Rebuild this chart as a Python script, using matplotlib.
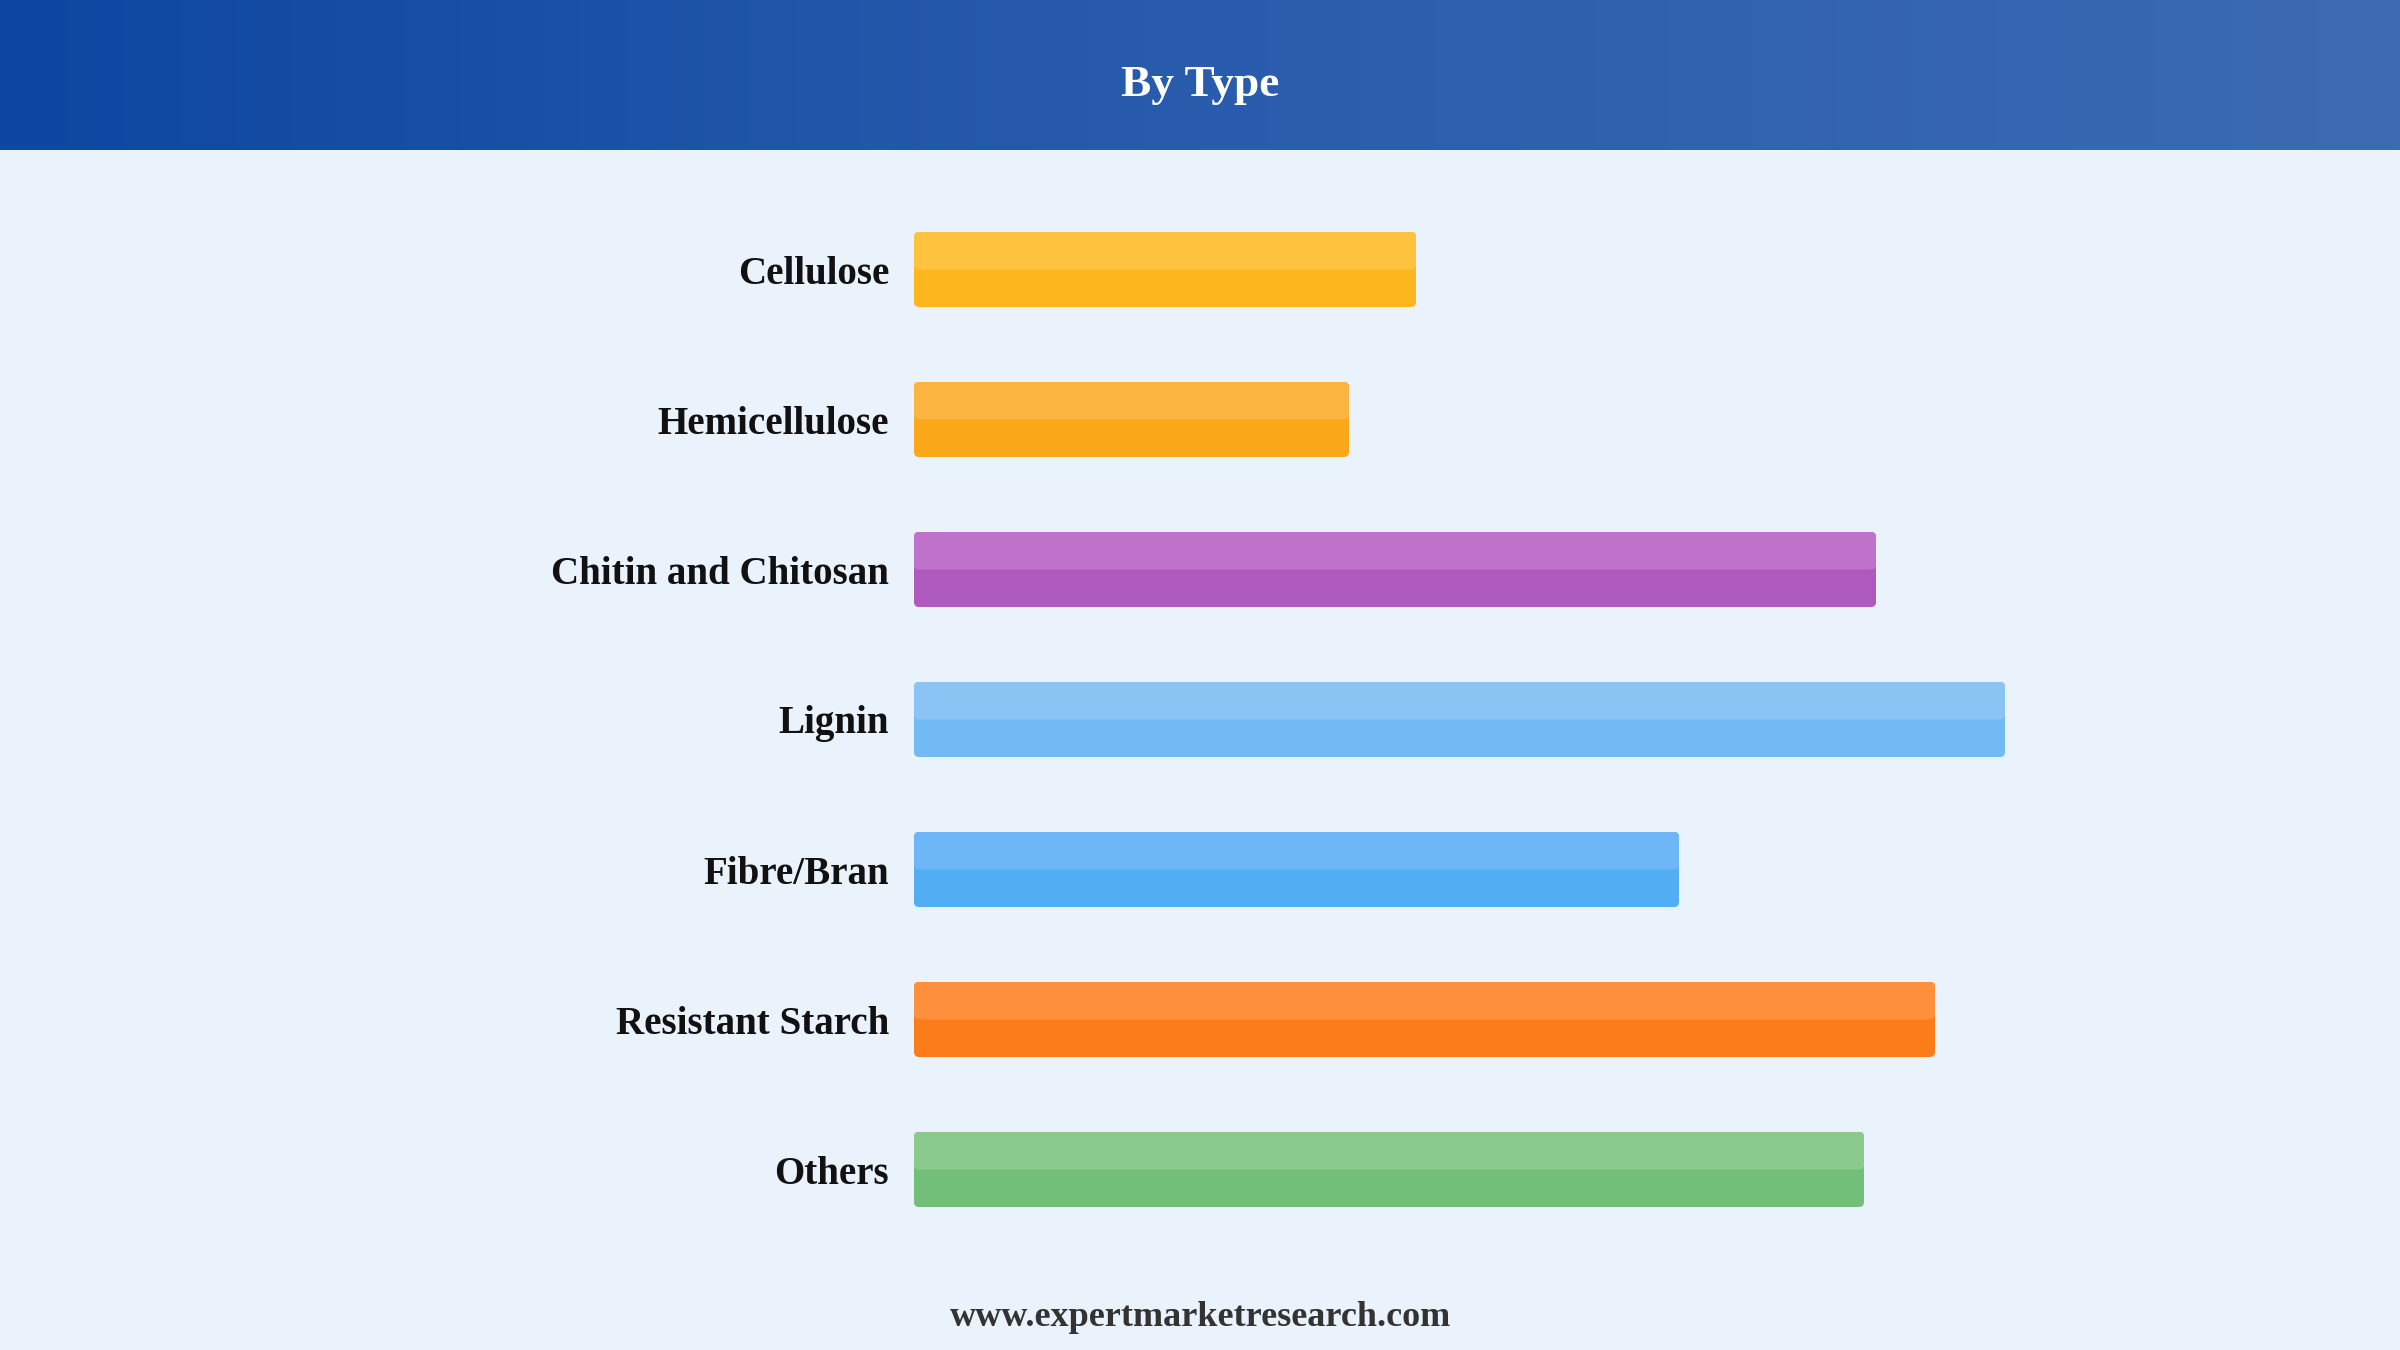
import numpy as np
import matplotlib
matplotlib.use("Agg")
import matplotlib.pyplot as plt
from matplotlib.patches import FancyBboxPatch
from matplotlib.colors import LinearSegmentedColormap

# data (no axis shown, relative lengths)
categories = ["Cellulose", "Hemicellulose", "Chitin and Chitosan", "Lignin",
              "Fibre/Bran", "Resistant Starch", "Others"]
values = [50.2, 43.5, 96.2, 109.1, 76.5, 102.1, 95.0]
dark_colors = ["#fdb71d", "#faa81a", "#ad59be", "#71baf4", "#52adf3", "#fd7c1a", "#71bf78"]
light_colors = ["#fdc33f", "#fbb440", "#bf72c9", "#89c4f5", "#6db7f6", "#fd8f3d", "#8aca8c"]

title = "By Type"
footer = "www.expertmarketresearch.com"

W, H = 2400, 1350
DPI = 200
bg = "#eaf2fc"
serif = ["Liberation Serif", "DejaVu Serif"]

fig = plt.figure(figsize=(W / DPI, H / DPI), dpi=DPI, facecolor=bg)

# header band with horizontal gradient
hdr = fig.add_axes([0, 1 - 150 / H, 1, 150 / H])
cmap = LinearSegmentedColormap.from_list("hdr", ["#0d47a1", "#2a5cad", "#3c6bb3"])
hdr.imshow(np.linspace(0, 1, 256)[None, :], aspect="auto", cmap=cmap,
           extent=[0, 1, 0, 1])
hdr.set_axis_off()

fig.text(0.5, 1 - 96 / H, title, ha="center", va="baseline", color="white",
         fontsize=16.3, fontweight="bold", family=serif)

# bar area: bar centres at 269.5 + 150*i px, bar start at x=914 px
ax = fig.add_axes([914 / W, 1 - 1244.5 / H, 1 - 914 / W, 1050 / H])
ax.set_facecolor(bg)
ax.set_xlim(0, 148.6)
ax.set_ylim(len(categories) - 0.5, -0.5)

y = np.arange(len(categories))
bh = 0.5
bars = ax.barh(y, values, height=bh, color="none")

# rounded corners: x units per px = 0.1, y units per px = 1/150
px_x = 148.6 / (W - 914)
px_y = 1 / 150
aspect = px_y / px_x
r = 5 * px_x
for b, dc, lc in zip(bars, dark_colors, light_colors):
    x0, y0 = b.get_x(), b.get_y()
    w, h = b.get_width(), b.get_height()
    ax.add_patch(FancyBboxPatch((x0, y0), w, h,
                                boxstyle=f"round,pad=0,rounding_size={r}",
                                mutation_aspect=aspect, fc=dc, ec="none"))
    ax.add_patch(FancyBboxPatch((x0, y0), w, h / 2,
                                boxstyle=f"round,pad=0,rounding_size={r}",
                                mutation_aspect=aspect, fc=lc, ec="none"))

ax.set_yticks(y)
ax.set_yticklabels(categories, family=serif, fontweight="bold", fontsize=14.05,
                   color="#111111")
ax.tick_params(axis="y", length=0, pad=9)
ax.set_xticks([])
for s in ax.spines.values():
    s.set_visible(False)

fig.text(0.5, 1 - 1326 / H, footer, ha="center", va="baseline", color="#333333",
         fontsize=13.0, fontweight="bold", family=serif)

fig.savefig("out.png", dpi=DPI, facecolor=bg)
